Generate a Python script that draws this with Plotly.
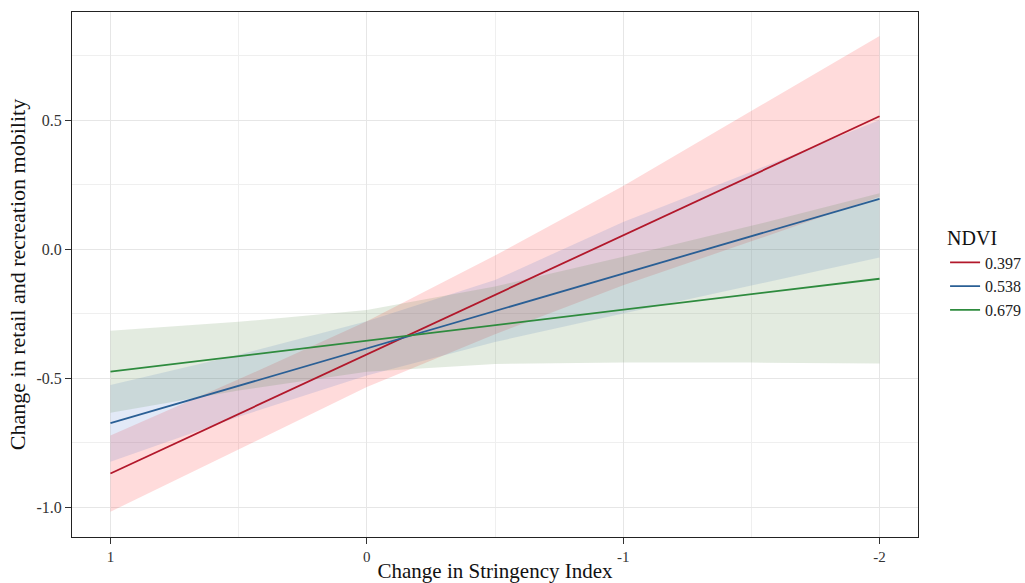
import plotly.graph_objects as go

# x positions (Change in Stringency Index)
x_vals = [1, 0.5, 0, -0.5, -1, -1.5, -2]

ndvi_levels = ["0.397", "0.538", "0.679"]

red_fit = [-0.870, -0.639, -0.408, -0.177, 0.053, 0.284, 0.515]
red_upper = [-0.723, -0.505, -0.280, -0.025, 0.245, 0.535, 0.826]
red_lower = [-1.018, -0.775, -0.535, -0.330, -0.140, 0.030, 0.203]

blue_fit = [-0.675, -0.530, -0.385, -0.240, -0.095, 0.050, 0.195]
blue_upper = [-0.527, -0.410, -0.280, -0.120, 0.105, 0.300, 0.500]
blue_lower = [-0.824, -0.650, -0.490, -0.360, -0.250, -0.140, -0.033]

green_fit = [-0.475, -0.415, -0.355, -0.295, -0.235, -0.175, -0.115]
green_upper = [-0.317, -0.282, -0.236, -0.145, -0.030, 0.090, 0.216]
green_lower = [-0.634, -0.548, -0.475, -0.445, -0.440, -0.440, -0.443]

x_ticks = [1, 0, -1, -2]
x_ticktext = ["1", "0", "-1", "-2"]
y_ticks = [0.5, 0.0, -0.5, -1.0]
y_ticktext = ["0.5", "0.0", "-0.5", "-1.0"]

line_colors = ["#B2182B", "#2A5F95", "#2E8B3E"]
fill_colors = ["rgba(255,40,40,0.17)", "rgba(60,110,200,0.15)", "rgba(80,130,60,0.16)"]

series = [
    (red_fit, red_upper, red_lower),
    (blue_fit, blue_upper, blue_lower),
    (green_fit, green_upper, green_lower),
]

fig = go.Figure()
for i, (fit, up, lo) in enumerate(series):
    fig.add_trace(go.Scatter(x=x_vals, y=lo, mode="lines", line=dict(width=0),
                             showlegend=False, hoverinfo="skip"))
    fig.add_trace(go.Scatter(x=x_vals, y=up, mode="lines", line=dict(width=0),
                             fill="tonexty", fillcolor=fill_colors[i],
                             showlegend=False, hoverinfo="skip"))
for i, (fit, up, lo) in enumerate(series):
    fig.add_trace(go.Scatter(x=x_vals, y=fit, mode="lines", name=ndvi_levels[i],
                             line=dict(color=line_colors[i], width=1.8)))

serif = "Liberation Serif, Times New Roman, serif"
fig.update_layout(
    width=1025, height=583,
    margin=dict(l=72, r=107, t=12, b=46, autoexpand=False),
    paper_bgcolor="white", plot_bgcolor="white",
    font=dict(family=serif, color="#333333"),
    legend=dict(title=dict(text="NDVI", font=dict(size=20, color="#111111")),
                x=1.032, y=0.605, xanchor="left", yanchor="top",
                font=dict(size=16, color="#222222"), traceorder="normal",
                itemwidth=30, tracegroupgap=0, bgcolor="rgba(0,0,0,0)"),
    showlegend=True,
)
fig.update_xaxes(
    range=[1.15, -2.15], tickvals=x_ticks, ticktext=x_ticktext,
    showgrid=True, gridcolor="#E6E6E6", gridwidth=1,
    minor=dict(dtick=0.5, tick0=0, showgrid=True, gridcolor="#EFEFEF", ticklen=0),
    zeroline=False, showline=True, linecolor="#222222", linewidth=1, mirror=True,
    ticks="outside", ticklen=6, tickcolor="#333333", automargin=False,
    tickfont=dict(size=15, color="#333333"),
    title=dict(text="Change in Stringency Index", font=dict(size=21, color="#111111"), standoff=4),
)
fig.update_yaxes(
    range=[-1.116, 0.919], tickvals=y_ticks, ticktext=y_ticktext,
    showgrid=True, gridcolor="#E6E6E6", gridwidth=1,
    minor=dict(dtick=0.25, tick0=0, showgrid=True, gridcolor="#EFEFEF", ticklen=0),
    zeroline=False, showline=True, linecolor="#222222", linewidth=1, mirror=True,
    ticks="outside", ticklen=6, tickcolor="#333333", automargin=False,
    tickfont=dict(size=16, color="#333333"),
    title=dict(text="Change in retail and recreation mobility", font=dict(size=22, color="#111111"), standoff=4),
)
fig.write_html("out.html",
               config={"displayModeBar": False},
               post_script="document.body.style.margin='0';document.body.style.overflow='hidden';")
